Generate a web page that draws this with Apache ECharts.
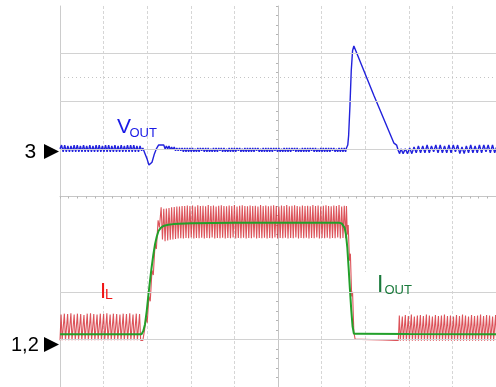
<!DOCTYPE html>
<html>
<head>
<meta charset="utf-8">
<script src="https://cdn.jsdelivr.net/npm/echarts@6/dist/echarts.min.js"></script>
<style>
  html, body { margin: 0; padding: 0; background: #fff; }
  #scope { width: 496px; height: 387px; }
</style>
</head>
<body>
<div id="scope"></div>
<script>
// ---- Channel 3: VOUT deviation in mV (50 mV/div, reference at division 5) ----
// steady ripple before the load step, one sample every 3.6 µs from t = 0
const voutPre = [
  0,4,-3,4,-3,3,-3,3,-3,4,
  -3,4,-3,3,-3,4,-3,3,-3,4,
  -3,3,-3,4,-3,4,-3,3,-3,4,
  -3,4,-3,3,-3,4,-3,3,-3,4,
  -3,3,-3,4,-3,4,-3,4,-3,3,
  -3,3,-2
];
// undershoot at the load step, [µs, mV]
const voutDip = [[190,1],[195,-5],[200,-11],[204,-17],[207,-19],[211,-14],[216,-6],[221,0],[226,4],[231,4],[235,2]];
// ripple under load, one sample every 3 µs from t = 238
const voutLoad = [
  4,0,3,0,3,-1,2,-1,2,-2,1,-2,1,-2,1,-3,1,-3,1,-3,
  1,-3,1,-3,0,-3,1,-3,1,-2,
  1,-3,1,-3,1,-3,0,-3,1,-3,
  1,-3,1,-2,1,-3,1,-3,0,-3,
  1,-3,1,-3,1,-3,1,-2,1,-3,
  0,-3,1,-3,1,-3,1,-3,1,-3,
  1,-2,1,-3,0,-3,1,-3,1,-3,
  1,-3,1,-3,1,-2,1,-3,1,-3,
  0,-3,1,-3,1,-3,1,-3,1,-2,
  1,-3,1,-3,0,-3,1,-3,1,-3,
  1,-3,1,-2,1,-3,1,-3,0,-3,
  1,-3,1,-3,1,-3,1,-3,1,-2,
  1,-3,0,-3,1,-3,1,-3,1,-3
];
// overshoot at load release, [µs, mV]
const voutSpike = [[657,1],[660,4],[662,14],[665,45],[668,82],[671,103],[674,108],[720,56],[766,6],[769,8],[772,4],[776,-2],[779,-5]];
// light-load ripple, one sample every 5 µs from t = 782
const voutPost = [
  0,-5,0,-5,1,-5,2,-4,3,-4,
  3,-4,4,-4,3,-3,4,-4,4,-4,
  3,-4,4,-4,4,-3,4,-5,2,-5,
  3,-4,4,-4,3,-4,4,-4,4,-3,
  4,-4,4,-4,3
];

// ---- Channel 1: inductor current IL in mA (200 mA/div, reference at division 1) ----
// discontinuous pulses before the step, one sample every 2.5 µs from t = 0
const ilPre = [
  -4,104,-4, -4,108,-4, -4,106,-4, -4,110,-4, -4,104,-4,
  -4,108,-4, -4,106,-4, -4,102,-4, -4,108,-4, -4,110,-4,
  -4,106,-4, -4,104,-4, -4,108,-4, -4,106,-4, -4,110,-4,
  -4,104,-4, -4,108,-4, -4,106,-4, -4,104,-4, -4,108,-4,
  -4,106,-4, -4,110,-4, -4,104,-4, -4,108,-4, -4,106,-4,
  -4
];
// ramp up, [µs, mA]
const ilRise = [[190,-4],[194,40],[197,90],[200,70],[204,180],[207,160],[211,290],[214,270],[218,400],[221,380],[225,500],[228,470],[232,555]];
// continuous-mode ripple under load, one sample every 3 µs from t = 235
const ilHigh = [
  420,548,412,550,415,552,418,555,420,556,422,558,424,558,425,560,424,560,426,562,
  425,560,428,562,424,558,426,563,425,560,
  427,561,424,559,426,564,425,560,428,562,
  424,558,426,561,425,563,427,560,424,559,
  426,562,425,560,428,564,424,558,426,561,
  425,563,427,560,424,559,426,562,425,560,
  428,561,424,558,426,564,425,560,427,562,
  424,559,426,561,425,563,428,560,424,558,
  426,562,425,560,427,564,424,559,426,561,
  425,563,428,560,424,558,426,562,425,560,
  427,561,424,559,426,564,425,560,428,562,
  424,558,426,561,425,563,427,560,424,559,
  426,562,425,560,428,564,424,558,426,561,
  425
];
// ramp down, [µs, mA]
const ilFall = [[657,560],[659,440],[661,480],[664,330],[666,360],[669,180],[671,200],[674,30],[677,0],[680,-2]];
// idle gap, [µs, mA]
const ilIdle = [[690,0],[740,-2],[770,-4],[774,-4]];
// discontinuous pulses after release, one sample every 2.3 µs from t = 776
const ilPost = [
  -4,100,-6, -5,96,-6, -5,102,-6, -5,98,-6, -5,104,-6,
  -5,96,-6, -5,100,-6, -5,102,-6, -5,98,-6, -5,104,-6,
  -5,100,-6, -5,96,-6, -5,102,-6, -5,98,-6, -5,100,-6,
  -5,104,-6, -5,98,-6, -5,100,-6, -5,96,-6, -5,102,-6,
  -5,98,-6, -5,104,-6, -5,100,-6, -5,96,-6, -5,102,-6,
  -5,98,-6, -5,100,-6, -5,104,-6, -5,98,-6, -5,102,-6,
  -5,100,-6, -5,96,-6, -5,102,-6
];

// ---- Channel 2: load current IOUT in mA (200 mA/div, reference at division 1) ----
const ioutTrace = [
  [0,22],[100,22],[187,22],[191,35],[195,64],[199,120],[203,190],[207,255],[210,300],
  [214,355],[218,400],[222,432],[226,455],[231,468],[237,476],[248,481],[260,484],
  [300,488],[400,490],[500,490],[600,490],[640,490],[646,487],[650,480],[653,468],
  [656,440],[659,385],[662,300],[665,210],[668,125],[671,55],[674,24],[690,24],
  [800,23],[1000,22]
];

// Screen graticule rows (divisions from centre)
const solidRows = [-3, -2, 1, 2, 3];
const dottedRows = [2.5];

const FONT = '"Liberation Sans", Arial, Helvetica, sans-serif';

// record timebase: spread an evenly sampled block from t0 in steps of dt
function sampled(t0, dt, values) {
  return values.map((v, i) => [t0 + i * dt, v]);
}

const vout = [].concat(
  sampled(0, 3.6, voutPre), voutDip,
  sampled(238, 3.0, voutLoad), voutSpike,
  sampled(782, 5.0, voutPost)
);
const il = [].concat(
  sampled(0, 2.5, ilPre), ilRise,
  sampled(235, 3.0, ilHigh), ilFall, ilIdle,
  sampled(776, 2.3, ilPost)
);

const gridGray = '#d2d2d2';
const tickGray = '#b4b4b4';

const chart = echarts.init(document.getElementById('scope'), null, { renderer: 'canvas' });

chart.setOption({
  animation: false,
  backgroundColor: '#ffffff',
  grid: { left: 60, top: 6, width: 436, height: 384, containLabel: false },
  xAxis: [
    {
      type: 'value', min: -5, max: 5, interval: 1,
      axisLine: { show: true, onZero: true, onZeroAxisIndex: 0, lineStyle: { color: '#c6c6c6', width: 1 } },
      axisTick: { show: true, length: 2, lineStyle: { color: tickGray } },
      minorTick: { show: true, splitNumber: 5, length: 2, lineStyle: { color: tickGray } },
      axisLabel: { show: false },
      splitLine: { show: true, lineStyle: { color: '#d6d6d6', width: 1, type: [3, 2] } }
    },
    { type: 'value', min: 0, max: 1000, show: false }
  ],
  yAxis: [
    {
      type: 'value', min: -4, max: 4, interval: 1,
      axisLine: { show: true, onZero: true, onZeroAxisIndex: 0, lineStyle: { color: '#c6c6c6', width: 1 } },
      axisTick: { show: true, length: 2, lineStyle: { color: tickGray } },
      minorTick: { show: true, splitNumber: 5, length: 2, lineStyle: { color: tickGray } },
      axisLabel: { show: false },
      splitLine: { show: false }
    },
    {
      type: 'value', min: -250, max: 150, position: 'left',
      axisLine: { show: true, onZero: false, lineStyle: { color: '#cccccc', width: 1 } },
      axisTick: { show: false }, axisLabel: { show: false }, splitLine: { show: false }
    },
    { type: 'value', min: -200, max: 1400, show: false }
  ],
  series: [
    {
      name: 'graticule', type: 'line', xAxisIndex: 0, yAxisIndex: 0,
      data: [], silent: true, z: 0,
      markLine: {
        silent: true, animation: false, symbol: ['none', 'none'],
        label: { show: false },
        lineStyle: { color: gridGray, width: 1, type: 'solid' },
        data: solidRows.map(v => ({ yAxis: v })).concat(
          dottedRows.map(v => ({ yAxis: v, lineStyle: { color: '#c4c4c4', type: [1, 3], width: 1 } })))
      }
    },
    {
      name: 'IL', type: 'line', xAxisIndex: 1, yAxisIndex: 2, data: il,
      showSymbol: false, symbol: 'none', z: 3,
      lineStyle: { color: '#d2232c', width: 1.1, opacity: 0.78 }
    },
    {
      name: 'IOUT', type: 'line', xAxisIndex: 1, yAxisIndex: 2, data: ioutTrace,
      showSymbol: false, symbol: 'none', z: 4,
      lineStyle: { color: '#22a02a', width: 2 }
    },
    {
      name: 'VOUT', type: 'line', xAxisIndex: 1, yAxisIndex: 1, data: vout,
      showSymbol: false, symbol: 'none', z: 4,
      lineStyle: { color: '#2222dc', width: 1.4 }
    }
  ],
  graphic: [
    // clear patches behind the trace names
    { type: 'rect', z: 1, shape: { x: 80, y: 270, width: 60, height: 36 }, style: { fill: '#fff' } },
    { type: 'rect', z: 1, shape: { x: 359, y: 272, width: 72, height: 32 }, style: { fill: '#fff' } },
    // channel markers
    { type: 'text', z: 10, x: 24.5, y: 152, style: { text: '3', font: '21px ' + FONT, fill: '#000', verticalAlign: 'middle' } },
    { type: 'polygon', z: 10, shape: { points: [[44, 144], [59, 151.5], [44, 159]] }, style: { fill: '#000' } },
    { type: 'text', z: 10, x: 11, y: 345, style: { text: '1,2', font: '20px ' + FONT, fill: '#000', verticalAlign: 'middle' } },
    { type: 'polygon', z: 10, shape: { points: [[44, 337], [59, 344.5], [44, 352]] }, style: { fill: '#000' } },
    // trace names
    { type: 'text', z: 10, x: 117, y: 127.5, style: { text: 'V', font: '21px ' + FONT, fill: '#1a1ae6', verticalAlign: 'middle' } },
    { type: 'text', z: 10, x: 129.5, y: 133, style: { text: 'OUT', font: '13px ' + FONT, fill: '#1a1ae6', verticalAlign: 'middle' } },
    { type: 'text', z: 10, x: 100, y: 291.5, style: { text: 'I', font: '22px ' + FONT, fill: '#f01515', verticalAlign: 'middle' } },
    { type: 'text', z: 10, x: 105, y: 295, style: { text: 'L', font: '14px ' + FONT, fill: '#f01515', verticalAlign: 'middle' } },
    { type: 'text', z: 10, x: 377, y: 286, style: { text: 'I', font: '23px ' + FONT, fill: '#1a7a3c', verticalAlign: 'middle' } },
    { type: 'text', z: 10, x: 384.5, y: 290.5, style: { text: 'OUT', font: '13px ' + FONT, fill: '#1a7a3c', verticalAlign: 'middle' } }
  ]
});
</script>
</body>
</html>
